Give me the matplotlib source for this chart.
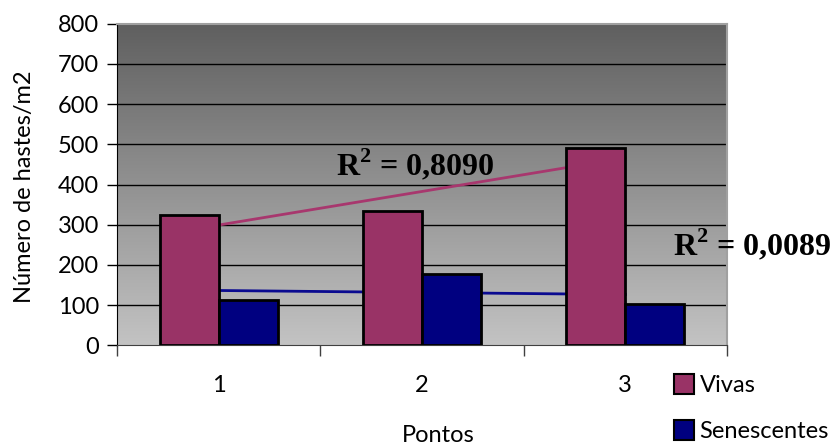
import numpy as np
import matplotlib.pyplot as plt
from matplotlib.colors import LinearSegmentedColormap
from matplotlib.lines import Line2D

# Dados: número de hastes por m2 em cada ponto
pontos = [1, 2, 3]
vivas = [323, 335, 490]
senescentes = [113, 178, 103]
r2_vivas = "0,8090"
r2_senescentes = "0,0089"

cor_vivas = '#993366'
cor_senescentes = '#000080'

plt.rcParams['mathtext.fontset'] = 'custom'
plt.rcParams['mathtext.bf'] = 'Liberation Serif:bold'
plt.rcParams['mathtext.rm'] = 'Liberation Serif:bold'

fig = plt.figure(figsize=(8.39, 4.46), dpi=100)
ax = fig.add_axes([117 / 839, 1 - 345.3 / 446, 610 / 839, 321.6 / 446])

x = np.arange(len(pontos)) + 1.0
largura = 0.29

ax.set_xlim(0.5, 3.5)
ax.set_ylim(0, 800)

# fundo em degradê (escuro em cima, claro embaixo)
grad = np.linspace(0, 1, 256).reshape(-1, 1)
ax.imshow(grad, extent=[0.5, 3.5, 0, 800], aspect='auto', origin='upper',
          cmap=LinearSegmentedColormap.from_list('fundo', ['#5f5f5f', '#c3c3c3']),
          zorder=0)

# linhas de grade
for v in range(100, 800, 100):
    ax.axhline(v, color='black', lw=1.0, zorder=1)

# linhas de tendência (regressão linear)
for serie, cor in [(vivas, '#a8376e'), (senescentes, '#0a0a90')]:
    coef = np.polyfit(x, serie, 1)
    xs = np.array([x[0], x[-1]])
    ax.plot(xs, np.polyval(coef, xs), color=cor, lw=2, zorder=2)

ax.bar(x - largura / 2, vivas, largura, color=cor_vivas, edgecolor='black',
       lw=2, zorder=3)
ax.bar(x + largura / 2, senescentes, largura, color=cor_senescentes,
       edgecolor='black', lw=2, zorder=3)

# eixos
for lado in ['top', 'right']:
    ax.spines[lado].set_color('#a0a0a0')
    ax.spines[lado].set_linewidth(1.5)
ax.spines['left'].set_color('black')
ax.spines['bottom'].set_color('#404040')

fonte = 'Lato'
ax.set_yticks(range(0, 801, 100))
ax.set_yticklabels([str(v) for v in range(0, 801, 100)], fontsize=17,
                   family=fonte)
ax.tick_params(axis='y', length=7, width=1, direction='out', pad=6)

ax.set_xticks([0.5, 1.5, 2.5, 3.5])
ax.set_xticklabels([])
ax.tick_params(axis='x', length=8, width=1, direction='out', color='#404040')
for xi, p in zip(x, pontos):
    ax.text(xi, -100, str(p), ha='center', va='center', fontsize=17,
            family=fonte)

ax.text(2.08, -225, 'Pontos', ha='center', va='center', fontsize=17,
        family=fonte, clip_on=False)
fig.text(25 / 839, 1 - 187 / 446, 'Número de hastes/m2', rotation=90,
         ha='center', va='center', fontsize=17, family=fonte)

# valores de R²
fig.text(415 / 839, 1 - 165 / 446, r'R$^\mathbf{2}$ = ' + r2_vivas,
         ha='center', va='center', fontsize=23, fontweight='bold',
         family='Liberation Serif')
fig.text(752 / 839, 1 - 245 / 446, r'R$^\mathbf{2}$ = ' + r2_senescentes,
         ha='center', va='center', fontsize=23, fontweight='bold',
         family='Liberation Serif')

# legenda
handles = [Line2D([], [], marker='s', ls='', markersize=14,
                  markerfacecolor=c, markeredgecolor='black', markeredgewidth=1.5)
           for c in [cor_vivas, cor_senescentes]]
fig.legend(handles, ['Vivas', 'Senescentes'], loc='upper left',
           bbox_to_anchor=(663 / 839, 1 - 366 / 446), frameon=False,
           prop={'family': fonte, 'size': 17}, handletextpad=0.15,
           labelspacing=1.05, handlelength=1.0, borderaxespad=0)

fig.savefig('out.png', dpi=100)
